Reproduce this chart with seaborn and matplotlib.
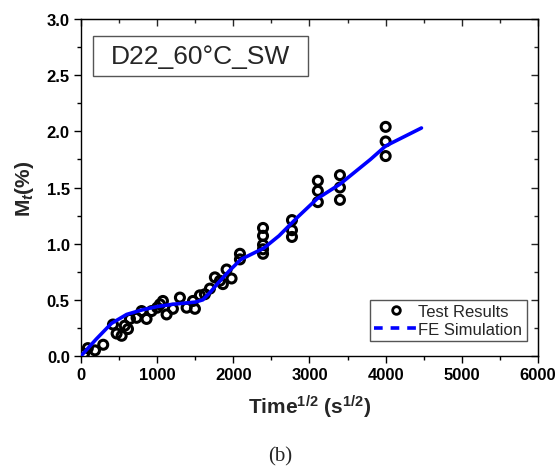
import numpy as np
import pandas as pd
import matplotlib
matplotlib.use("Agg")
import matplotlib.pyplot as plt
import seaborn as sns
from matplotlib.lines import Line2D
from matplotlib.patches import Rectangle
from matplotlib.ticker import MultipleLocator

# ---- data ----
test_x = [40, 90, 184, 292, 420, 468, 534, 575, 617, 643, 730, 796, 861, 927,
          1000, 1037, 1076, 1124, 1207, 1299, 1387, 1470, 1496, 1561, 1627,
          1693, 1758, 1824, 1863, 1912, 1977, 2087, 2087,
          2390, 2390, 2390, 2390, 2390,
          2770, 2770, 2770, 3110, 3110, 3110, 3400, 3400, 3400,
          4000, 4000, 4000]
test_y = [0.02, 0.07, 0.05, 0.10, 0.28, 0.20, 0.18, 0.27, 0.24, 0.33, 0.34,
          0.40, 0.33, 0.40, 0.43, 0.46, 0.49, 0.37, 0.42, 0.52, 0.43, 0.49,
          0.42, 0.54, 0.55, 0.60, 0.70, 0.67, 0.64, 0.77, 0.69, 0.91, 0.86,
          1.14, 1.07, 0.99, 0.95, 0.91,
          1.21, 1.12, 1.06, 1.56, 1.47, 1.37, 1.61, 1.50, 1.39,
          2.04, 1.91, 1.78]

fe_x = [0, 200, 400, 600, 800, 1000, 1200, 1500, 1600, 1700, 1800, 1950,
        2100, 2400, 2600, 2850, 3100, 3400, 3800, 4000, 4470]
fe_y = [0.0, 0.15, 0.29, 0.37, 0.41, 0.44, 0.46, 0.48, 0.50, 0.57, 0.65,
        0.76, 0.86, 0.96, 1.07, 1.24, 1.40, 1.53, 1.75, 1.87, 2.03]

label_text = "D22_60°C_SW"
legend_labels = ["Test Results", "FE Simulation"]

df_test = pd.DataFrame({"x": test_x, "y": test_y})
df_fe = pd.DataFrame({"x": fe_x, "y": fe_y})

sns.set_style("ticks")
plt.rcParams["font.family"] = ["Liberation Sans", "DejaVu Sans"]
plt.rcParams["mathtext.fontset"] = "custom"
plt.rcParams["mathtext.rm"] = "Liberation Sans:bold"
plt.rcParams["mathtext.bf"] = "Liberation Sans:bold"
plt.rcParams["mathtext.it"] = "Liberation Sans:italic:bold"

fig = plt.figure(figsize=(5.6, 4.77), dpi=100)
ax = fig.add_axes([0.1446, 0.2516, 0.8161, 0.7064])

sns.lineplot(data=df_fe, x="x", y="y", ax=ax, color="#0000ff", linewidth=2.6,
             sort=False, estimator=None, zorder=3)
sns.scatterplot(data=df_test, x="x", y="y", ax=ax, marker="o", s=42,
                facecolor="none", edgecolor="black", linewidth=2.2, zorder=2)

ax.set_xlim(0, 6000)
ax.set_ylim(0, 3.0)
ax.xaxis.set_major_locator(MultipleLocator(1000))
ax.xaxis.set_minor_locator(MultipleLocator(500))
ax.yaxis.set_major_locator(MultipleLocator(0.5))
ax.yaxis.set_minor_locator(MultipleLocator(0.25))
ax.set_yticks(np.arange(0, 3.01, 0.5))
ax.set_yticklabels([f"{v:.1f}" for v in np.arange(0, 3.01, 0.5)])

for s in ax.spines.values():
    s.set_linewidth(1.0)
    s.set_color("black")

ax.tick_params(which="both", bottom=True, left=True, top=False, right=False,
               direction="out", colors="black")
ax.tick_params(which="major", length=5, width=1.0, labelsize=12, pad=3)
ax.tick_params(which="minor", length=3, width=1.0)
for lab in ax.get_xticklabels() + ax.get_yticklabels():
    lab.set_fontweight("bold")

# mirrored inward ticks on top/right
axt = ax.secondary_xaxis("top")
axt.xaxis.set_major_locator(MultipleLocator(1000))
axt.xaxis.set_minor_locator(MultipleLocator(500))
axt.tick_params(which="both", direction="in", labeltop=False)
axt.tick_params(which="major", length=5, width=1.0)
axt.tick_params(which="minor", length=3, width=1.0)
axr = ax.secondary_yaxis("right")
axr.yaxis.set_major_locator(MultipleLocator(0.5))
axr.yaxis.set_minor_locator(MultipleLocator(0.25))
axr.tick_params(which="both", direction="in", labelright=False)
axr.tick_params(which="major", length=5, width=1.0)
axr.tick_params(which="minor", length=3, width=1.0)

ax.set_xlabel(r"Time$^{1/2}$ (s$^{1/2}$)", fontsize=15, fontweight="bold", labelpad=8)
ax.set_ylabel(r"M$_{\it{t}}$(%)", fontsize=15, fontweight="bold", labelpad=8)

# label box
ax.add_patch(Rectangle((0.0263, 0.831), 0.4705, 0.1187, transform=ax.transAxes,
                       facecolor="white", edgecolor="#555555", linewidth=1.0,
                       zorder=4))
ax.text(0.2615, 0.889, label_text, transform=ax.transAxes, fontsize=19,
        ha="center", va="center", zorder=5)

handles = [Line2D([], [], marker="o", linestyle="none", markerfacecolor="none",
                  markeredgecolor="black", markeredgewidth=2.0, markersize=5.5),
           Line2D([], [], color="#0000ff", linewidth=2.6, linestyle=(0, (2.4, 2.2)))]
leg = ax.legend(handles, legend_labels, loc="lower right",
                bbox_to_anchor=(0.975, 0.045), fontsize=12, frameon=True,
                fancybox=False, edgecolor="#555555", framealpha=1,
                handlelength=2.6, handletextpad=0.05, borderpad=0.25,
                labelspacing=0.15, borderaxespad=0)
leg.get_frame().set_linewidth(1.0)

fig.text(0.5, 0.042, "(b)", fontsize=15, family=["Liberation Serif", "DejaVu Serif"],
         ha="center", va="center")

fig.savefig("out.png", dpi=100)
